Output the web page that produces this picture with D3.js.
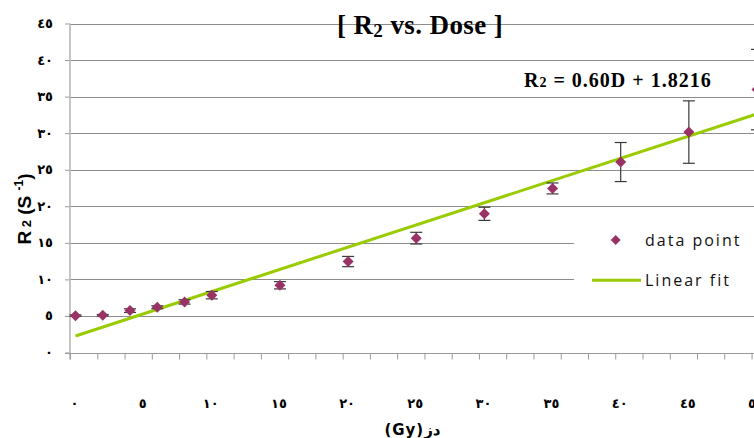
<!DOCTYPE html>
<html>
<head>
<meta charset="utf-8">
<script src="https://cdn.jsdelivr.net/npm/d3@7"></script>
<style>
  html, body { margin: 0; padding: 0; background: #fff; overflow: hidden; }
  svg { display: block; }
</style>
</head>
<body>
<svg id="chart" width="754" height="438"></svg>
<script>
// ---------- data ----------
const doses     = [0, 2, 4, 6, 8, 10, 15, 20, 25, 30, 35, 40, 45, 50];
const r2Values  = [5.04, 5.1, 5.73, 6.19, 6.92, 7.84, 9.2, 12.44, 15.64, 18.97, 22.44, 26.05, 30.15, 35.96];
const r2Errors  = [0.1, 0.1, 0.25, 0.2, 0.3, 0.5, 0.5, 0.7, 0.8, 0.9, 0.75, 2.67, 4.27, 5.5];
const fitDoses  = [0, 50];
const fitValues = [2.26, 32.64];
const yTickValues = [0, 5, 10, 15, 20, 25, 30, 35, 40, 45];
const yTickLabels = ['٠', '٥', '١٠', '١٥', '٢٠', '٢٥', '٣٠', '٣٥', '٤٠', '٤٥'];
const xTickValues = [0, 5, 10, 15, 20, 25, 30, 35, 40, 45, 50];
const xTickLabels = ['٠', '٥', '١٠', '١٥', '٢٠', '٢٥', '٣٠', '٣٥', '٤٠', '٤٥', '٥٠'];
const xMinorTicks = d3.range(-0.4, 51, 2);
const titleText = ['[ R', '2', ' vs. Dose ]'];
const equationText = ['R', '2', ' = 0.60D + 1.8216'];
const legendLabels = ['data point', 'Linear fit'];
const xAxisTitle = '(Gy)دز';

// ---------- layout ----------
const svg = d3.select('#chart');
const x = d3.scaleLinear().domain([0, 50]).range([75.5, 757]);
const y = d3.scaleLinear().domain([0, 45]).range([352.5, 23.5]);
const plotLeft = 70, plotRight = 760;
const markerColor = '#993366';
const fitColor = '#99cc00';

// gridlines
svg.append('g')
  .selectAll('line')
  .data(yTickValues.filter(v => v > 0))
  .join('line')
  .attr('x1', plotLeft).attr('x2', plotRight)
  .attr('y1', d => Math.round(y(d)) + 0.5).attr('y2', d => Math.round(y(d)) + 0.5)
  .attr('stroke', '#8c8c8c').attr('stroke-width', 1);

// y axis
const yAxis = d3.axisLeft(y).tickValues(yTickValues).tickSize(5).tickFormat('');
const gy = svg.append('g').attr('transform', `translate(${plotLeft},0)`).call(yAxis);
gy.select('.domain').remove();
gy.selectAll('.tick line').attr('stroke', '#9a9a9a');
svg.append('line')
  .attr('x1', plotLeft).attr('x2', plotLeft)
  .attr('y1', y(45)).attr('y2', y(0) + 7)
  .attr('stroke', '#b8b8b8').attr('stroke-width', 1.6);

svg.append('g').selectAll('text')
  .data(yTickValues)
  .join('text')
  .attr('x', 53).attr('y', d => y(d))
  .attr('dy', '0.35em')
  .attr('text-anchor', 'end')
  .attr('font-family', 'DejaVu Sans, sans-serif')
  .attr('font-weight', 'bold')
  .attr('font-size', 13)
  .attr('fill', '#000')
  .text((d, i) => yTickLabels[i]);

// x axis
const xMinor = d3.scaleLinear().domain(x.domain()).range(x.range());
const xAxis = d3.axisBottom(xMinor).tickValues(xMinorTicks).tickSize(6).tickFormat('').tickSizeOuter(0);
const gx = svg.append('g').attr('transform', `translate(0,${Math.round(y(0)) + 0.5})`).call(xAxis);
gx.select('.domain').remove();
gx.selectAll('.tick line').attr('stroke', '#9a9a9a');
svg.append('line')
  .attr('x1', 65).attr('x2', plotRight)
  .attr('y1', Math.round(y(0)) + 0.5).attr('y2', Math.round(y(0)) + 0.5)
  .attr('stroke', '#9a9a9a').attr('stroke-width', 1.2);

svg.append('g').selectAll('text')
  .data(xTickValues)
  .join('text')
  .attr('x', d => x(d) - 1).attr('y', 403)
  .attr('dy', '0.35em')
  .attr('text-anchor', 'middle')
  .attr('font-family', 'DejaVu Sans, sans-serif')
  .attr('font-weight', 'bold')
  .attr('font-size', 13)
  .attr('fill', '#000')
  .text((d, i) => xTickLabels[i]);

// axis titles
svg.append('text')
  .attr('x', 412.5).attr('y', 435)
  .attr('text-anchor', 'middle')
  .attr('font-family', 'DejaVu Sans, sans-serif')
  .attr('font-weight', 'bold')
  .attr('font-size', 15)
  .attr('letter-spacing', 1)
  .text(xAxisTitle);

const yt = svg.append('text')
  .attr('transform', 'translate(31,209) rotate(-90)')
  .attr('text-anchor', 'middle')
  .attr('font-family', 'Liberation Sans, Arial, sans-serif')
  .attr('font-weight', 'bold')
  .attr('font-size', 19);
yt.append('tspan').text('R');
yt.append('tspan').attr('font-size', 13).text(' 2');
yt.append('tspan').text(' (S ');
yt.append('tspan').attr('font-size', 12).attr('dy', -8).text('-1');
yt.append('tspan').attr('dy', 8).text(')');

// fit line
const line = d3.line().x(d => x(d[0])).y(d => y(d[1]));
svg.append('path')
  .datum(fitDoses.map((d, i) => [d, fitValues[i]]))
  .attr('d', line)
  .attr('fill', 'none')
  .attr('stroke', fitColor)
  .attr('stroke-width', 3);

// error bars
const pts = doses.map((d, i) => ({ d, v: r2Values[i], e: r2Errors[i] }));
const eb = svg.append('g').attr('stroke', '#3a3a3a').attr('stroke-width', 1.2);
eb.selectAll('line.v').data(pts).join('line').attr('class', 'v')
  .attr('x1', p => x(p.d)).attr('x2', p => x(p.d))
  .attr('y1', p => y(p.v + p.e)).attr('y2', p => y(p.v - p.e));
eb.selectAll('line.t').data(pts).join('line').attr('class', 't')
  .attr('x1', p => x(p.d) - 6).attr('x2', p => x(p.d) + 6)
  .attr('y1', p => y(p.v + p.e)).attr('y2', p => y(p.v + p.e));
eb.selectAll('line.b').data(pts).join('line').attr('class', 'b')
  .attr('x1', p => x(p.d) - 6).attr('x2', p => x(p.d) + 6)
  .attr('y1', p => y(p.v - p.e)).attr('y2', p => y(p.v - p.e));

// markers
const diamond = (cx, cy, r) => `M${cx},${cy - r}L${cx + r},${cy}L${cx},${cy + r}L${cx - r},${cy}Z`;
svg.append('g').selectAll('path').data(pts).join('path')
  .attr('d', p => diamond(x(p.d), y(p.v), 5.5))
  .attr('fill', markerColor);

// legend
svg.append('rect')
  .attr('x', 574).attr('y', 212).attr('width', 200).attr('height', 86)
  .attr('fill', '#fff');
svg.append('path').attr('d', diamond(615.7, 240, 5)).attr('fill', markerColor);
svg.append('line')
  .attr('x1', 592).attr('x2', 641).attr('y1', 280.3).attr('y2', 280.3)
  .attr('stroke', fitColor).attr('stroke-width', 3);
svg.append('g').selectAll('text').data(legendLabels).join('text')
  .attr('x', 645).attr('y', (d, i) => i === 0 ? 246 : 286)
  .attr('font-family', 'Open Sans, sans-serif')
  .attr('font-size', 16)
  .attr('letter-spacing', 2)
  .attr('fill', '#111')
  .text(d => d);

// title
const tt = svg.append('text')
  .attr('x', 420).attr('y', 34)
  .attr('text-anchor', 'middle')
  .attr('font-family', 'Liberation Serif, Times New Roman, serif')
  .attr('font-weight', 'bold')
  .attr('font-size', 27)
  .attr('letter-spacing', 0.4);
tt.append('tspan').text(titleText[0]);
tt.append('tspan').attr('font-size', 19).attr('dy', 3).text(titleText[1]);
tt.append('tspan').attr('dy', -3).text(titleText[2]);

// equation
const eq = svg.append('text')
  .attr('x', 524).attr('y', 87)
  .attr('font-family', 'Liberation Serif, Times New Roman, serif')
  .attr('font-weight', 'bold')
  .attr('font-size', 20)
  .attr('letter-spacing', 1);
eq.append('tspan').text(equationText[0]);
eq.append('tspan').attr('font-size', 14).text(equationText[1]);
eq.append('tspan').text(equationText[2]);
</script>
</body>
</html>
